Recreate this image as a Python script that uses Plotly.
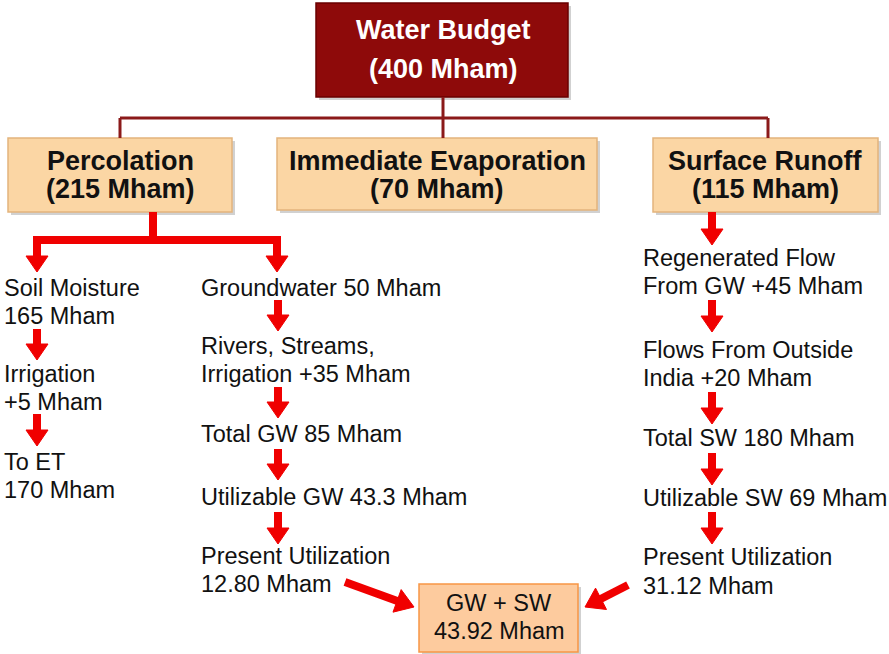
import math
import plotly.graph_objects as go

# --- content ---
top_title = ["Water Budget", "(400 Mham)"]
branch_titles = [["Percolation", "(215 Mham)"],
                 ["Immediate Evaporation", "(70 Mham)"],
                 ["Surface Runoff", "(115 Mham)"]]
left_lines = ["Soil Moisture", "165 Mham", "Irrigation", "+5 Mham", "To ET", "170 Mham"]
left_y = [288, 316, 374, 402, 462, 490]
mid_lines = ["Groundwater 50 Mham", "Rivers, Streams,", "Irrigation +35 Mham",
             "Total GW 85 Mham", "Utilizable GW 43.3 Mham",
             "Present Utilization", "12.80 Mham"]
mid_y = [288, 346, 374, 434, 497, 556, 584]
right_lines = ["Regenerated Flow", "From GW +45 Mham", "Flows From Outside",
               "India +20 Mham", "Total SW 180 Mham", "Utilizable SW 69 Mham",
               "Present Utilization", "31.12 Mham"]
right_y = [258, 286, 350, 378, 438, 498, 557, 586]
total_lines = ["GW + SW", "43.92 Mham"]

W, H = 889, 654
FONT = "Arial, Liberation Sans, sans-serif"
RED = "#F00000"
DARK = "#8B1A1A"
PEACH = "#FBD6A4"

fig = go.Figure()
shapes = []
ann = []


def box(x0, y0, x1, y1, fill, line):
    shapes.append(dict(type="rect", x0=x0 + 3, y0=y0 + 3, x1=x1 + 3, y1=y1 + 3,
                       fillcolor="rgba(0,0,0,0.18)", line=dict(width=0), layer="below"))
    shapes.append(dict(type="rect", x0=x0, y0=y0, x1=x1, y1=y1,
                       fillcolor=fill, line=dict(color=line, width=1.5), layer="below"))


def text(x, y, s, size=23.5, bold=False, color="#111", anchor="left"):
    ann.append(dict(x=x, y=y, text=f"<b>{s}</b>" if bold else s, showarrow=False,
                    xanchor=anchor, yanchor="middle",
                    font=dict(family=FONT, size=size, color=color)))


def arrow(x0, y0, x1, y1, width=8, head_w=22, head_l=16):
    dx, dy = x1 - x0, y1 - y0
    L = math.hypot(dx, dy)
    ux, uy = dx / L, dy / L
    bx, by = x1 - ux * head_l, y1 - uy * head_l
    shapes.append(dict(type="line", x0=x0, y0=y0, x1=bx + ux, y1=by + uy,
                       line=dict(color=RED, width=width)))
    px, py = -uy * head_w / 2, ux * head_w / 2
    shapes.append(dict(type="path",
                       path=f"M{bx + px},{by + py} L{x1},{y1} L{bx - px},{by - py} Z",
                       fillcolor=RED, line=dict(color=RED, width=1)))


# top box and tree connector
box(316, 3, 568, 97, "#8E0A0A", "#6A0000")
text(443, 30, top_title[0], size=27, bold=True, color="white", anchor="center")
text(443, 69, top_title[1], size=27, bold=True, color="white", anchor="center")
for seg in [(443, 97, 443, 118), (120, 118, 768, 118),
            (120, 118, 120, 138), (443, 118, 443, 138), (768, 118, 768, 138)]:
    shapes.append(dict(type="line", x0=seg[0], y0=seg[1], x1=seg[2], y1=seg[3],
                       line=dict(color=DARK, width=3)))

# branch boxes
branch_boxes = [(8, 138, 232, 212), (277, 138, 597, 210), (653, 138, 878, 212)]
for (x0, y0, x1, y1), lines in zip(branch_boxes, branch_titles):
    cx = (x0 + x1) / 2
    text(cx, 161, lines[0], size=27, bold=True, anchor="center")
    text(cx, 189, lines[1], size=27, bold=True, anchor="center")
    box(x0, y0, x1, y1, PEACH, "#E3B47C")

# percolation split
shapes.append(dict(type="line", x0=153, y0=212, x1=153, y1=240, line=dict(color=RED, width=8)))
shapes.append(dict(type="line", x0=33, y0=240, x1=281, y1=240, line=dict(color=RED, width=8)))
arrow(37, 237, 37, 272)
arrow(277, 237, 277, 272)

# columns of text
for s, y in zip(left_lines, left_y):
    text(2, y, s)
for s, y in zip(mid_lines, mid_y):
    text(199, y, s)
for s, y in zip(right_lines, right_y):
    text(641, y, s)

# column arrows
for y0, y1 in [(329, 360), (414, 446)]:
    arrow(37, y0, 37, y1)
for y0, y1 in [(300, 331), (387, 418), (449, 480), (512, 544)]:
    arrow(278, y0, 278, y1)
for y0, y1 in [(212, 245), (300, 332), (392, 424), (453, 485), (512, 544)]:
    arrow(712, y0, 712, y1)

# total box
box(419, 584, 578, 652, "#FDCB9E", "#F79646")
text(499, 603, total_lines[0], anchor="center")
text(499, 631, total_lines[1], anchor="center")
arrow(345, 582, 414, 607, head_w=24, head_l=18)
arrow(628, 585, 585, 607, head_w=24, head_l=18)

fig.update_layout(
    width=W, height=H, margin=dict(l=0, r=0, t=0, b=0),
    paper_bgcolor="white", plot_bgcolor="white", showlegend=False,
    xaxis=dict(range=[0, W], visible=False, fixedrange=True),
    yaxis=dict(range=[H, 0], visible=False, fixedrange=True),
    shapes=shapes, annotations=ann,
)

fig.write_html("out.html", config={"displayModeBar": False},
               post_script="document.body.style.margin='0';")
